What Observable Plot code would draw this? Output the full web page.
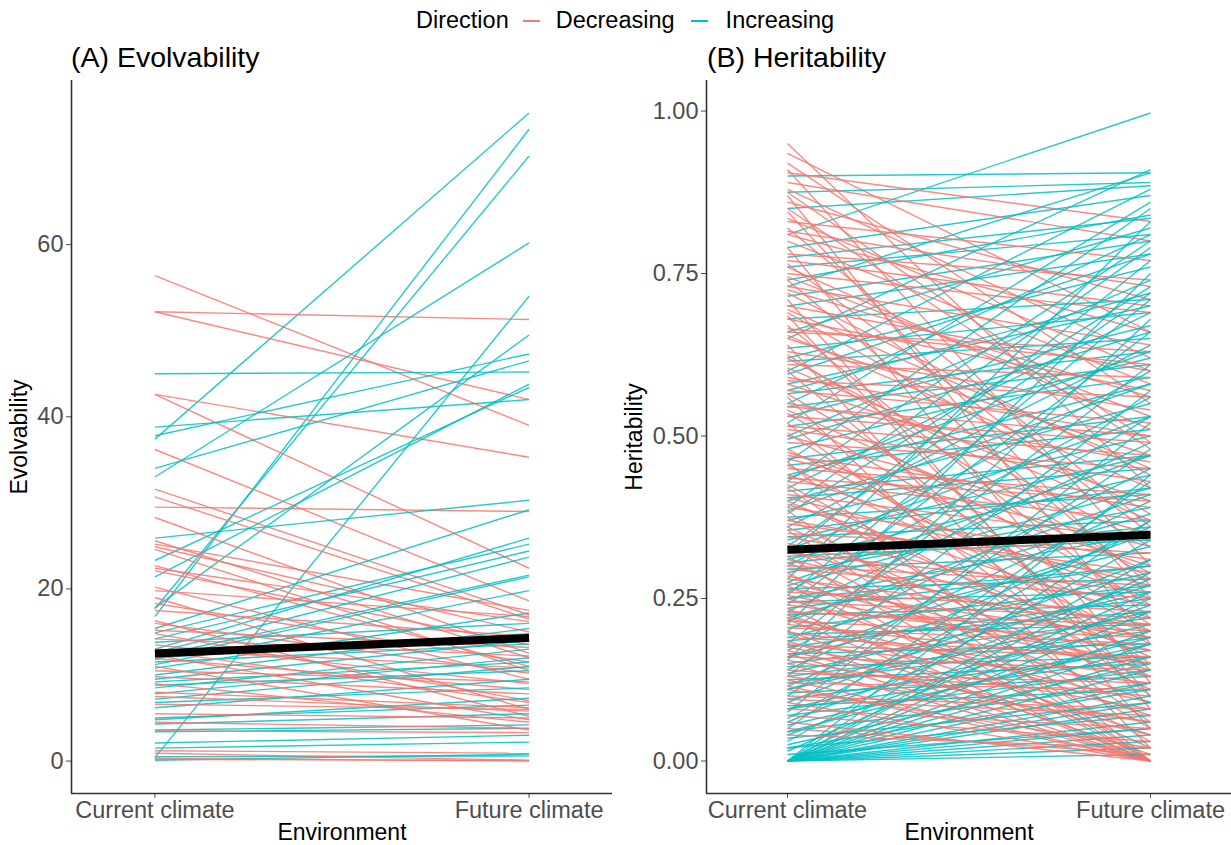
<!DOCTYPE html>
<html><head><meta charset="utf-8">
<script src="https://cdn.jsdelivr.net/npm/d3@7"></script>
<script src="https://cdn.jsdelivr.net/npm/@observablehq/plot@0.6"></script>
<style>
body{margin:0;background:#fff;}
#wrap{position:relative;width:1231px;height:845px;font-family:"Liberation Sans",Arial,sans-serif;overflow:hidden;background:#fff;}
.title{position:absolute;font-size:28.5px;color:#000;top:43px;line-height:1;white-space:nowrap;z-index:2;}
#legend{position:absolute;top:9px;left:416px;display:flex;align-items:center;font-size:23.5px;line-height:1;color:#000;white-space:nowrap;z-index:2;}
.sw{display:inline-block;width:17px;height:2px;}
.panel{position:absolute;top:0;z-index:1;}
.panel svg [aria-label="x-axis label"] text, .panel svg [aria-label="y-axis label"] text{fill:#000;font-size:23px;}
</style></head>
<body><div id="wrap">
<div class="panel" id="pA" style="left:0px"></div>
<div class="panel" id="pB" style="left:615px"></div>
<div id="legend"><span>Direction</span><span class="sw" style="background:#F8766D;margin:0 16px 0 14px"></span><span>Decreasing</span><span class="sw" style="background:#00BFC4;margin:0 18px 0 16px"></span><span>Increasing</span></div>
<div class="title" style="left:71px">(A) Evolvability</div>
<div class="title" style="left:707px">(B) Heritability</div>
</div>
<script>
const environments = ["Current climate", "Future climate"];
const directions = ["Decreasing", "Increasing"];
const directionColors = ["#F8766D", "#00BFC4"];

// Panel A: evolvability [current, future]
const evoDecreasing = [[56.4,39.0],[52.2,51.3],[52.2,42.0],[42.6,35.3],[42.6,22.4],[36.2,18.6],[31.6,17.0],[30.7,16.5],[29.5,29.0],[28.3,12.5],[25.6,12.0],[25.2,17.5],[24.9,15.0],[24.6,10.5],[22.7,11.0],[22.4,16.2],[22.1,13.5],[20.2,9.5],[19.8,16.8],[19.0,6.0],[18.3,11.5],[17.5,14.5],[16.3,5.2],[16.0,10.2],[15.2,13.2],[14.8,7.0],[14.2,12.2],[13.5,9.0],[13.0,10.8],[12.8,6.8],[12.3,4.8],[11.9,8.3],[11.0,3.6],[10.5,9.2],[9.8,7.8],[9.0,4.5],[8.0,6.2],[7.5,5.8],[6.6,6.0],[5.5,5.0],[4.5,3.8],[3.5,3.3],[1.2,0.9],[0.9,0.1],[0.3,0.0],[0.2,0.05]];
const evoIncreasing = [[37.4,75.3],[16.8,73.4],[17.7,70.3],[33.0,60.2],[0.4,54.0],[17.8,49.5],[37.8,47.3],[34.0,46.5],[45.0,45.2],[21.4,43.8],[23.3,43.4],[38.8,42.0],[25.9,30.3],[15.4,29.2],[14.9,25.2],[14.2,24.4],[13.8,16.0],[13.0,25.9],[12.6,23.7],[12.2,21.6],[12.0,14.8],[11.8,21.4],[11.5,13.6],[11.2,19.8],[10.8,17.2],[10.0,15.4],[9.5,14.0],[9.2,11.5],[8.8,10.5],[8.5,13.0],[7.8,12.0],[7.2,11.0],[6.8,8.5],[6.2,9.5],[5.0,6.5],[4.8,7.3],[4.3,5.5],[3.6,4.2],[3.4,3.8],[2.1,3.0],[1.5,2.2],[0.5,0.6],[0.1,0.8]];
const evoMean = [12.5, 14.3];
const evoTicks = [0, 20, 40, 60];

// Panel B: heritability [current, future]
const herDecreasing = [[0.95,0.42],[0.935,0.66],[0.92,0.55],[0.91,0.30],[0.905,0.83],[0.89,0.80],[0.88,0.62],[0.875,0.49],[0.87,0.18],[0.86,0.71],[0.85,0.48],[0.845,0.25],[0.835,0.60],[0.83,0.77],[0.82,0.36],[0.815,0.73],[0.81,0.66],[0.80,0.58],[0.79,0.12],[0.78,0.74],[0.77,0.70],[0.765,0.35],[0.76,0.51],[0.75,0.69],[0.745,0.53],[0.74,0.27],[0.73,0.64],[0.725,0.56],[0.72,0.44],[0.71,0.08],[0.70,0.60],[0.695,0.45],[0.69,0.38],[0.685,0.10],[0.68,0.57],[0.67,0.22],[0.665,0.61],[0.66,0.63],[0.655,0.42],[0.65,0.47],[0.64,0.05],[0.63,0.54],[0.625,0.28],[0.62,0.33],[0.61,0.59],[0.605,0.37],[0.60,0.14],[0.59,0.50],[0.585,0.56],[0.58,0.40],[0.57,0.52],[0.565,0.24],[0.56,0.02],[0.55,0.46],[0.545,0.50],[0.54,0.29],[0.535,0.21],[0.53,0.49],[0.52,0.10],[0.515,0.47],[0.51,0.43],[0.505,0.15],[0.50,0.35],[0.49,0.45],[0.48,0.20],[0.475,0.30],[0.47,0.39],[0.465,0.33],[0.46,0.00],[0.455,0.18],[0.45,0.41],[0.44,0.25],[0.435,0.40],[0.43,0.37],[0.425,0.13],[0.42,0.06],[0.41,0.34],[0.405,0.27],[0.40,0.16],[0.395,0.22],[0.39,0.31],[0.385,0.00],[0.375,0.05],[0.37,0.28],[0.365,0.29],[0.36,0.11],[0.355,0.00],[0.35,0.32],[0.345,0.24],[0.335,0.20],[0.33,0.03],[0.325,0.17],[0.32,0.26],[0.315,0.00],[0.31,0.19],[0.305,0.09],[0.30,0.27],[0.295,0.25],[0.29,0.00],[0.285,0.14],[0.28,0.21],[0.275,0.13],[0.27,0.02],[0.265,0.19],[0.26,0.23],[0.255,0.15],[0.25,0.07],[0.245,0.22],[0.24,0.17],[0.235,0.00],[0.23,0.20],[0.228,0.21],[0.225,0.04],[0.22,0.09],[0.218,0.00],[0.215,0.19],[0.21,0.15],[0.205,0.18],[0.20,0.01],[0.198,0.13],[0.19,0.16],[0.185,0.00],[0.18,0.12],[0.178,0.16],[0.175,0.08],[0.17,0.04],[0.165,0.00],[0.16,0.14],[0.155,0.06],[0.15,0.00],[0.14,0.10],[0.135,0.12],[0.13,0.06],[0.125,0.00],[0.12,0.11],[0.115,0.00],[0.11,0.02],[0.10,0.08],[0.095,0.07],[0.09,0.00],[0.08,0.05],[0.07,0.03],[0.06,0.00],[0.05,0.01],[0.04,0.02]];
const herIncreasing = [[0.90,0.905],[0.875,0.89],[0.81,0.997],[0.85,0.885],[0.79,0.87],[0.775,0.835],[0.76,0.81],[0.74,0.84],[0.73,0.905],[0.715,0.80],[0.70,0.78],[0.68,0.71],[0.66,0.82],[0.65,0.91],[0.635,0.69],[0.62,0.76],[0.615,0.65],[0.60,0.88],[0.595,0.78],[0.58,0.70],[0.57,0.72],[0.565,0.63],[0.55,0.81],[0.545,0.61],[0.53,0.67],[0.52,0.86],[0.515,0.59],[0.50,0.74],[0.495,0.66],[0.48,0.62],[0.465,0.53],[0.46,0.85],[0.455,0.51],[0.44,0.58],[0.435,0.63],[0.43,0.80],[0.42,0.69],[0.415,0.47],[0.405,0.45],[0.40,0.55],[0.39,0.79],[0.385,0.58],[0.38,0.73],[0.375,0.41],[0.37,0.50],[0.36,0.64],[0.355,0.42],[0.345,0.37],[0.34,0.47],[0.33,0.72],[0.325,0.53],[0.32,0.77],[0.315,0.34],[0.31,0.44],[0.305,0.36],[0.30,0.60],[0.295,0.32],[0.29,0.39],[0.28,0.83],[0.275,0.47],[0.27,0.42],[0.265,0.28],[0.26,0.56],[0.255,0.71],[0.25,0.35],[0.25,0.30],[0.245,0.26],[0.24,0.66],[0.235,0.30],[0.23,0.49],[0.225,0.24],[0.22,0.38],[0.215,0.41],[0.21,0.75],[0.205,0.27],[0.20,0.53],[0.195,0.21],[0.19,0.33],[0.185,0.23],[0.18,0.61],[0.175,0.25],[0.17,0.45],[0.165,0.18],[0.16,0.29],[0.16,0.35],[0.155,0.68],[0.15,0.22],[0.145,0.16],[0.14,0.40],[0.135,0.26],[0.13,0.57],[0.13,0.20],[0.125,0.15],[0.12,0.19],[0.115,0.36],[0.11,0.23],[0.11,0.27],[0.105,0.13],[0.10,0.48],[0.095,0.17],[0.09,0.31],[0.085,0.11],[0.08,0.21],[0.08,0.16],[0.075,0.52],[0.07,0.14],[0.065,0.37],[0.06,0.28],[0.055,0.18],[0.05,0.43],[0.045,0.12],[0.045,0.19],[0.04,0.24],[0.035,0.09],[0.03,0.34],[0.025,0.15],[0.02,0.07],[0.02,0.11],[0.015,0.26],[0.01,0.05],[0.0,0.02],[0.0,0.04],[0.0,0.06],[0.0,0.09],[0.0,0.12],[0.0,0.16],[0.0,0.20],[0.0,0.25],[0.0,0.31],[0.0,0.37],[0.0,0.44],[0.0,0.03],[0.0,0.01],[0.0,0.23],[0.0,0.10],[0.0,0.08],[0.0,0.14],[0.0,0.29],[0.0,0.05],[0.0,0.18]];
const herMean = [0.325, 0.348];
const herTicks = [0, 0.25, 0.5, 0.75, 1.0];

const xPad = 0.223;

function interleave(dec, inc) {
  const out = [];
  const n = Math.max(dec.length, inc.length);
  for (let i = 0; i < n; i++) {
    if (i < dec.length) out.push({c: dec[i][0], f: dec[i][1], dir: directions[0]});
    if (i < inc.length) out.push({c: inc[i][0], f: inc[i][1], dir: directions[1]});
  }
  return out;
}

function panel({dec, inc, mean, yDomain, yTicks, yFormat, ylabel, width, marginLeft, marginRight}) {
  const data = interleave(dec, inc);
  return Plot.plot({
    width, height: 845,
    marginTop: 80, marginBottom: 52, marginLeft, marginRight,
    style: {fontFamily: '"Liberation Sans", Arial, sans-serif', fontSize: "23.5px", color: "#4D4D4D", background: "white", overflow: "visible"},
    x: {domain: [-xPad, 1 + xPad], ticks: [0, 1], tickFormat: i => environments[i], tickSize: 5, tickPadding: 3,
        label: "Environment", labelArrow: false, labelAnchor: "center", labelOffset: 46},
    y: {domain: yDomain, ticks: yTicks, tickFormat: yFormat, tickSize: 5, tickPadding: 3,
        label: ylabel, labelArrow: false, labelAnchor: "center", labelOffset: marginLeft - 10},
    color: {domain: directions, range: directionColors},
    marks: [
      Plot.link(data, {x1: () => 0, x2: () => 1, y1: "c", y2: "f", stroke: "dir", strokeWidth: 1.4, strokeOpacity: 0.85, strokeLinecap: "butt"}),
      Plot.link([mean], {x1: () => 0, x2: () => 1, y1: d => d[0], y2: d => d[1], stroke: "black", strokeWidth: 8, strokeLinecap: "butt"}),
      Plot.ruleX([-xPad], {stroke: "#333", strokeWidth: 1.6}),
      Plot.ruleY([yDomain[0]], {stroke: "#333", strokeWidth: 1.6})
    ]
  });
}

document.getElementById("pA").append(panel({
  dec: evoDecreasing, inc: evoIncreasing, mean: evoMean,
  yDomain: [-3.77, 79.07], yTicks: evoTicks, yFormat: d => String(d), ylabel: "Evolvability",
  width: 615, marginLeft: 71, marginRight: 3
}));
document.getElementById("pB").append(panel({
  dec: herDecreasing, inc: herIncreasing, mean: herMean,
  yDomain: [-0.05, 1.047], yTicks: herTicks, yFormat: d3.format(".2f"), ylabel: "Heritability",
  width: 616, marginLeft: 91, marginRight: 0
}));
</script>
</body></html>
